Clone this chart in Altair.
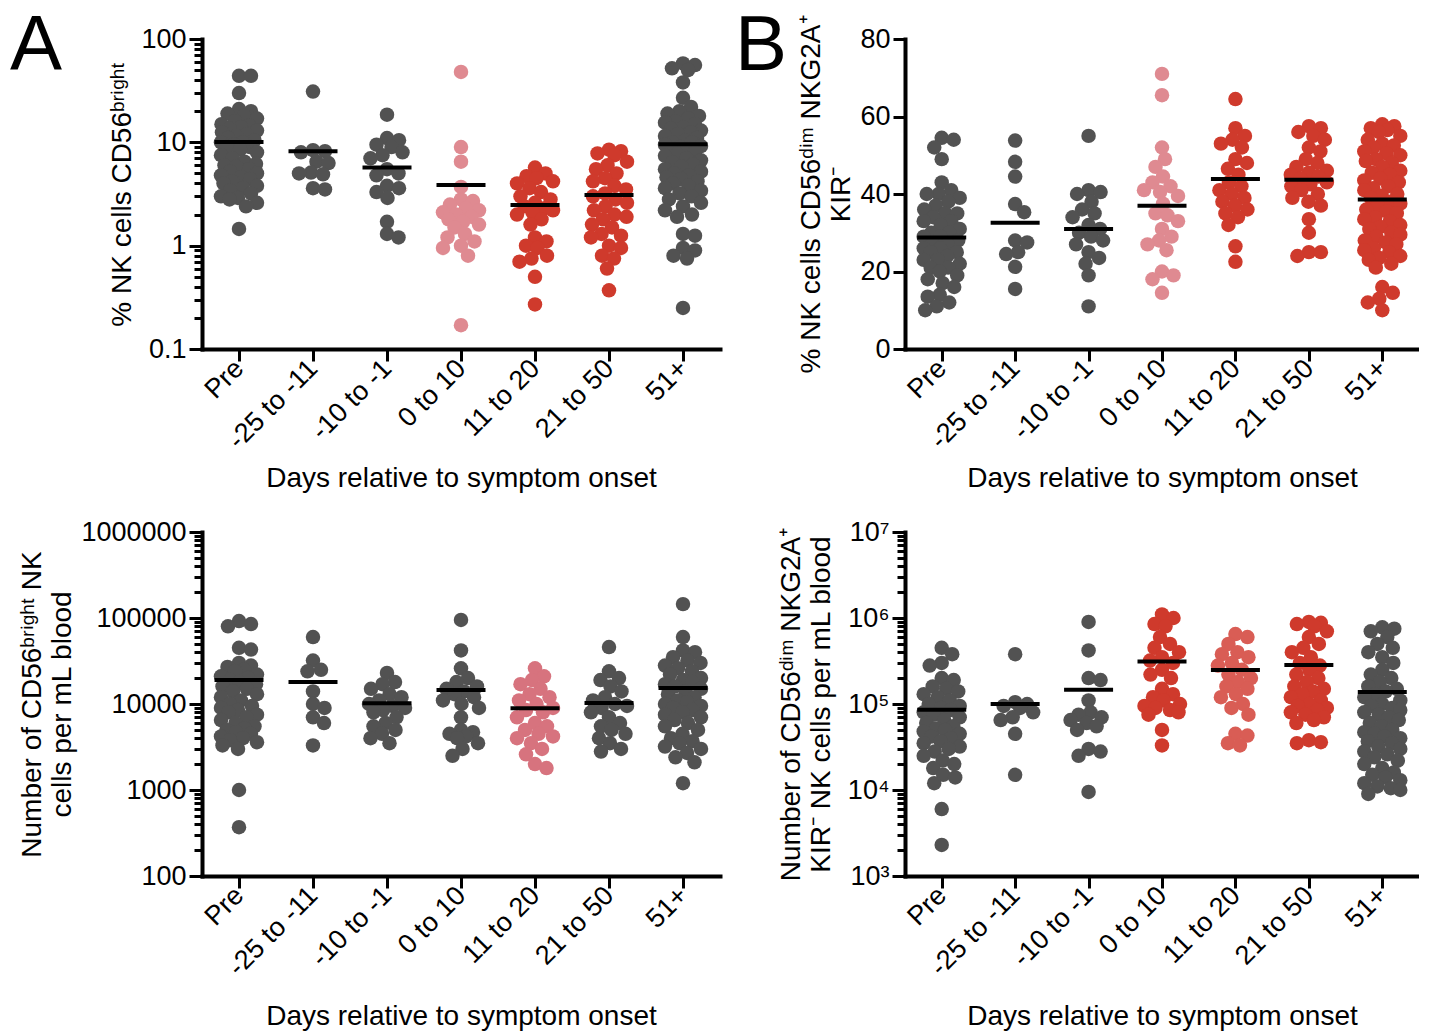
import math
import altair as alt
import pandas as pd

FONT = "Liberation Sans"
CATS = ["Pre", "-25 to -11", "-10 to -1", "0 to 10", "11 to 20", "21 to 50", "51+"]

GRAY = "#525252"
PINK = "#df8a91"
RED = "#cf3a2c"
CPINK = "#d7737e"
LRED = "#d95d55"

# ---------------- Panel A: % NK cells CD56bright ----------------
a_pre = [44, 44, 30, 21, 20, 19, 18, 17, 16, 15, 14.5, 14, 13.5, 13, 12.5, 12, 11.5, 11, 10.5, 10, 10, 9.5, 9, 9,
         8.5, 8, 7.5, 7, 6.5, 6.2, 6, 5.8, 5.5, 5.2, 5, 4.8, 4.6, 4.4, 4.2, 4, 3.8, 3.6, 3.4, 3.2, 3, 2.9, 2.8,
         2.6, 2.4, 1.45]
a_m25 = [31, 8.4, 8.2, 8.0, 6.5, 6.3, 5.1, 5.0, 4.9, 3.6, 3.5]
a_m10 = [18.5, 11, 10.5, 9.5, 9, 8, 7.5, 7, 5.5, 5, 4.8, 3.8, 3.6, 3.3, 2.9, 1.7, 1.3, 1.2]
a_0to10 = [48, 9, 6.5, 3.7, 2.8, 2.7, 2.5, 2.3, 2.2, 2.1, 2.0, 1.9, 1.8, 1.7, 1.6, 1.5, 1.3, 1.2, 1.1, 1.0, 0.95,
           0.8, 0.17]
a_11to20 = [5.7, 5.0, 4.7, 4.5, 4.2, 4.0, 3.6, 3.3, 3.0, 2.8, 2.6, 2.4, 2.3, 2.2, 2.1, 2.0, 1.8, 1.6, 1.2, 1.1,
            1.0, 0.95, 0.8, 0.75, 0.7, 0.5, 0.27]
a_21to50 = [8.5, 8.2, 7.8, 7.5, 6.5, 6, 5.5, 5.0, 4.5, 4.2, 3.8, 3.5, 3.2, 3.0, 2.8, 2.6, 2.4, 2.2, 2.0, 1.9,
            1.8, 1.6, 1.5, 1.3, 1.25, 1.2, 1.0, 0.95, 0.8, 0.75, 0.6, 0.37]
a_51 = [58, 56, 52, 50, 38, 27, 22, 20, 19, 18, 17, 16, 15.5, 15, 14, 13.5, 13, 12.5, 12, 11.5, 11, 10.5, 10, 10,
        9.5, 9.2, 9, 8.7, 8.4, 8, 7.7, 7.4, 7, 6.7, 6.4, 6.1, 5.8, 5.5, 5.2, 5, 4.8, 4.6, 4.4, 4.2, 4, 3.8, 3.6,
        3.4, 3.2, 3.0, 2.8, 2.6, 2.4, 2.2, 2.0, 1.9, 1.3, 1.25, 0.95, 0.9, 0.8, 0.75, 0.25]
a_medians = [10.1, 8.2, 5.7, 3.86, 2.47, 3.09, 9.6]
a_colors = [GRAY, GRAY, GRAY, PINK, RED, RED, GRAY]

# ---------------- Panel B: % NK cells CD56dim NKG2A+ KIR- ----------------
b_pre = [54.5, 54, 52, 49, 43, 41, 40, 40, 39, 38, 37, 36, 35, 35, 34, 33, 33, 32, 31, 30, 30, 29, 29, 28, 27,
         27, 26, 26, 25, 25, 24, 23, 23, 22, 21, 21, 20, 19, 18, 17, 16, 14, 13.5, 12, 11, 10]
b_m25 = [53.8, 48.3, 44.5, 37.4, 35.3, 28, 27.5, 25, 24.5, 21.2, 15.5]
b_m10 = [55, 41, 40.5, 40, 38, 36, 35, 34, 32, 31, 30, 29, 28, 27, 25, 23.5, 22, 19, 11]
b_0to10 = [71, 65.5, 52, 49, 47, 44.5, 43, 42, 41, 40.5, 39.5, 37.5, 35, 34.5, 33, 31, 29, 28, 27, 25.5, 20, 19,
           18, 14.5]
b_11to20 = [64.5, 57, 55, 54, 53, 52, 49, 48, 46.5, 45, 43, 42, 41, 40, 39, 38, 37, 36, 35, 34, 32, 26.5, 22.5]
b_21to50 = [57.5, 57, 56, 55, 54, 52, 51, 49, 48, 47, 46, 45.5, 45, 44.5, 44, 43, 42.5, 42, 41, 40, 39, 38, 37,
            33.5, 30, 25, 24, 25]
b_51 = [58, 57.5, 57, 56.5, 56, 55, 54, 53, 52.5, 52, 51, 50.5, 50, 49, 48.5, 48, 47, 46, 45.5, 45, 44, 43.5, 43,
        42, 41.5, 41, 40, 39.5, 39, 38, 37.5, 37, 36, 35.5, 35, 34, 33.5, 33, 32, 31.5, 31, 30, 29.5, 29, 28,
        27.5, 27, 26, 25.5, 25, 24, 23.5, 23, 22, 21, 16, 14.5, 13, 12, 10]
b_medians = [28.8, 32.6, 31.0, 37.0, 43.9, 43.7, 38.6]
b_colors = [GRAY, GRAY, GRAY, PINK, RED, RED, RED]

# ---------------- Panel C: CD56bright NK cells per mL ----------------
c_pre = [92000, 85000, 80000, 45000, 43000, 30000, 28000, 27000, 25000, 24000, 22000, 21000, 20000, 19000, 18000,
         17000, 16000, 15000, 14000, 13000, 12000, 11000, 10000, 9500, 9000, 8500, 8000, 7500, 7000, 6500, 6000,
         5500, 5200, 5000, 4700, 4500, 4200, 4000, 3800, 3600, 3300, 3000, 1000, 370]
c_m25 = [60000, 32000, 25000, 24000, 14000, 10000, 9000, 7000, 6000, 3300]
c_m10 = [23000, 18000, 17000, 15000, 13000, 12000, 11000, 10000, 9500, 9000, 8500, 8000, 7000, 6000, 5500, 5000,
         4500, 4000, 3500]
c_0to10 = [95000, 42000, 26000, 20000, 18000, 16000, 15000, 14000, 13000, 12000, 11000, 10000, 9000, 7000, 5000,
           4700, 4500, 4200, 4000, 3500, 3000, 2500]
c_11to20 = [26000, 21000, 19000, 17000, 15000, 13000, 12000, 11000, 10000, 9000, 8500, 8000, 7000, 6000, 5500,
            5000, 4500, 4200, 4000, 3500, 3000, 2600, 2000, 1800]
c_21to50 = [46000, 24000, 20000, 19000, 16000, 14000, 12000, 11000, 10000, 9500, 9000, 8000, 7000, 6000, 5500,
            5000, 4500, 4000, 3500, 3000, 2800]
c_51 = [145000, 60000, 42000, 40000, 35000, 32000, 30000, 28000, 26000, 24000, 22000, 20000, 19000, 18000, 17000,
        16000, 15000, 14000, 13000, 12000, 11000, 10500, 10000, 9500, 9000, 8500, 8000, 7500, 7000, 6500, 6000,
        5500, 5000, 4500, 4000, 3700, 3500, 3200, 3000, 2700, 2400, 2100, 1200]
c_medians = [19000, 18000, 10200, 14500, 8900, 10300, 15300]
c_colors = [GRAY, GRAY, GRAY, GRAY, CPINK, GRAY, GRAY]

# ---------------- Panel D: CD56dim NKG2A+ KIR- NK cells per mL ----------------
d_pre = [450000, 380000, 300000, 280000, 200000, 190000, 160000, 150000, 140000, 130000, 120000, 110000, 100000,
         95000, 90000, 85000, 80000, 75000, 70000, 65000, 60000, 55000, 52000, 50000, 48000, 45000, 42000, 40000,
         37000, 35000, 32000, 30000, 28000, 25000, 22000, 20000, 18000, 15000, 14000, 12000, 6000, 2300]
d_m25 = [380000, 105000, 100000, 95000, 90000, 80000, 70000, 65000, 45000, 15000]
d_m10 = [900000, 420000, 200000, 190000, 110000, 80000, 75000, 70000, 65000, 60000, 55000, 50000, 30000, 28000,
         25000, 9500]
d_0to10 = [1100000, 1000000, 850000, 800000, 600000, 500000, 450000, 400000, 350000, 320000, 300000, 250000,
           220000, 200000, 150000, 130000, 120000, 110000, 100000, 95000, 90000, 85000, 80000, 75000, 50000, 33000]
d_11to20 = [650000, 600000, 500000, 400000, 380000, 350000, 300000, 280000, 250000, 220000, 200000, 180000,
            160000, 150000, 130000, 120000, 100000, 90000, 75000, 45000, 43000, 35000, 33000]
d_21to50 = [900000, 880000, 850000, 800000, 700000, 600000, 500000, 450000, 400000, 350000, 300000, 280000,
            250000, 220000, 200000, 180000, 160000, 150000, 140000, 130000, 120000, 110000, 100000, 95000, 90000,
            85000, 80000, 75000, 70000, 65000, 60000, 38000, 36000, 35000]
d_51 = [780000, 750000, 700000, 600000, 500000, 450000, 400000, 350000, 300000, 250000, 220000, 200000, 180000,
        160000, 150000, 140000, 130000, 120000, 110000, 100000, 95000, 90000, 85000, 80000, 75000, 70000, 65000,
        60000, 55000, 50000, 47000, 45000, 42000, 40000, 37000, 35000, 32000, 30000, 28000, 26000, 24000, 22000,
        20000, 18000, 16000, 15000, 14000, 13000, 12000, 11000, 10500, 10000, 9000]
d_medians = [86000, 100000, 146000, 313000, 248000, 284000, 138000]
d_colors = [GRAY, GRAY, GRAY, RED, LRED, RED, GRAY]


def swarm(values, to_px, d=12.0, maxw=18.0):
    """Deterministic beeswarm: horizontal pixel offsets so that dots do not pile up."""
    ys = [to_px(v) for v in values]
    order = sorted(range(len(values)), key=lambda i: -ys[i])
    cands = [0.0]
    k = 1
    while k * 0.5 <= maxw:
        cands += [k * 0.5, -k * 0.5]
        k += 1
    placed = []
    offs = [0.0] * len(values)
    for i in order:
        y = ys[i]
        near = [(px, py) for px, py in placed if abs(py - y) < d]
        chosen, best_c, best_s = None, 0.0, -1.0
        for c in cands:
            md = min([math.hypot(c - px, y - py) for px, py in near] or [1e9])
            if md >= d:
                chosen = c
                break
            if md > best_s:
                best_s, best_c = md, c
        if chosen is None:
            chosen = best_c
        offs[i] = chosen
        placed.append((chosen, y))
    return offs


def make_panel(groups, colors, medians, W, H, ytype, ydom, ylabels, ytitle, letter=None, letter_dx=0,
               xtitle_pad=11, ytitle_pad=4):
    step = W / 7.0
    if ytype == "log":
        l0, l1 = math.log10(ydom[0]), math.log10(ydom[1])
        to_px = lambda v: H * (math.log10(v) - l0) / (l1 - l0)
    else:
        to_px = lambda v: H * (v - ydom[0]) / (ydom[1] - ydom[0])

    rows = []
    for i, (vals, col) in enumerate(zip(groups, colors)):
        offs = swarm(vals, to_px)
        for v, o in zip(vals, offs):
            rows.append({"x": i + o / step, "v": v, "c": col})
    df = pd.DataFrame(rows)

    half = 24.5 / step
    mdf = pd.DataFrame({"x1": [i - half for i in range(7)], "x2": [i + half for i in range(7)], "m": medians})

    xexpr = "[" + ",".join("'%s'" % c for c in CATS) + "][datum.value]"
    xaxis = alt.Axis(values=list(range(7)), labelExpr=xexpr, labelAngle=-45, labelOverlap=False,
                     labelAlign="right", labelBaseline="middle",
                     title="Days relative to symptom onset", tickSize=12, labelPadding=3,
                     titlePadding=xtitle_pad)
    xscale = alt.Scale(domain=[-0.5, 6.5], nice=False, zero=False)

    decades = list(ylabels.keys())
    lab_expr = " : ".join("datum.value == %r ? '%s'" % (v, s) for v, s in ylabels.items()) + " : ''"
    if ytype == "log":
        ticks = []
        for e in range(int(round(l0)), int(round(l1))):
            for m in range(1, 10):
                ticks.append(round(m * 10.0 ** e, 10))
        ticks.append(round(10.0 ** l1, 10))
        yscale = alt.Scale(type="log", domain=ydom, nice=False)
        test = "indexof([" + ",".join(repr(v) for v in decades) + "], datum.value) >= 0"
        yaxis = alt.Axis(values=ticks, labelExpr=lab_expr, title=ytitle, labelPadding=3,
                         titlePadding=ytitle_pad,
                         tickSize={"condition": {"test": test, "value": 13}, "value": 8})
    else:
        yscale = alt.Scale(domain=ydom, nice=False, zero=True)
        yaxis = alt.Axis(values=decades, labelExpr=lab_expr, title=ytitle, tickSize=12, labelPadding=3,
                         titlePadding=ytitle_pad)

    pts = alt.Chart(df).mark_circle(size=210, opacity=1).encode(
        x=alt.X("x:Q", scale=xscale, axis=xaxis),
        y=alt.Y("v:Q", scale=yscale, axis=yaxis),
        color=alt.Color("c:N", scale=None),
    )
    med = alt.Chart(mdf).mark_rule(strokeWidth=4, color="black").encode(
        x="x1:Q", x2="x2:Q", y="m:Q"
    )
    layers = [pts, med]
    if letter:
        lt = alt.Chart(pd.DataFrame({"t": [letter]})).mark_text(
            fontSize=78, font=FONT, align="left", baseline="alphabetic", color="black"
        ).encode(text="t:N", x=alt.value(letter_dx), y=alt.value(31))
        layers.append(lt)
    return alt.layer(*layers).properties(width=W, height=H)


pa = make_panel([a_pre, a_m25, a_m10, a_0to10, a_11to20, a_21to50, a_51], a_colors, a_medians,
                518, 310, "log", [0.1, 100], {0.1: "0.1", 1: "1", 10: "10", 100: "100"},
                "% NK cells CD56ᵇʳⁱᵍʰᵗ", "A", -192, xtitle_pad=11)
pb = make_panel([b_pre, b_m25, b_m10, b_0to10, b_11to20, b_21to50, b_51], b_colors, b_medians,
                514, 310, "lin", [0, 80], {0: "0", 20: "20", 40: "40", 60: "60", 80: "80"},
                ["% NK cells CD56ᵈⁱᵐ NKG2A⁺", "KIR⁻"], "B", -170, xtitle_pad=11)
pc = make_panel([c_pre, c_m25, c_m10, c_0to10, c_11to20, c_21to50, c_51], c_colors, c_medians,
                518, 344, "log", [100, 1000000],
                {100: "100", 1000: "1000", 10000: "10000", 100000: "100000", 1000000: "1000000"},
                ["Number of CD56ᵇʳⁱᵍʰᵗ NK", "cells per mL blood"], xtitle_pad=22)
pdd = make_panel([d_pre, d_m25, d_m10, d_0to10, d_11to20, d_21to50, d_51], d_colors, d_medians,
                 514, 344, "log", [1000, 10000000],
                 {1000: "10³", 10000: "10⁴", 100000: "10⁵", 1000000: "10⁶", 10000000: "10⁷"},
                 ["Number of CD56ᵈⁱᵐ NKG2A⁺", "KIR⁻ NK cells per mL blood"], xtitle_pad=22, ytitle_pad=12)

chart = alt.concat(pa, pb, pc, pdd, columns=2, spacing={"row": 183, "column": 185},
                   bounds="flush", align="each").configure_axis(
    domainColor="black", domainWidth=4, domainCap="square", tickColor="black", tickWidth=3,
    labelColor="black", titleColor="black", labelFont=FONT, titleFont=FONT,
    labelFontSize=27, titleFontSize=28, titleFontWeight="normal", grid=False,
).configure_view(stroke=None).properties(
    background="white", padding={"left": 2, "top": 0, "right": 0, "bottom": 0}
)

chart.save("out.html", embed_options={"renderer": "svg", "actions": False})
